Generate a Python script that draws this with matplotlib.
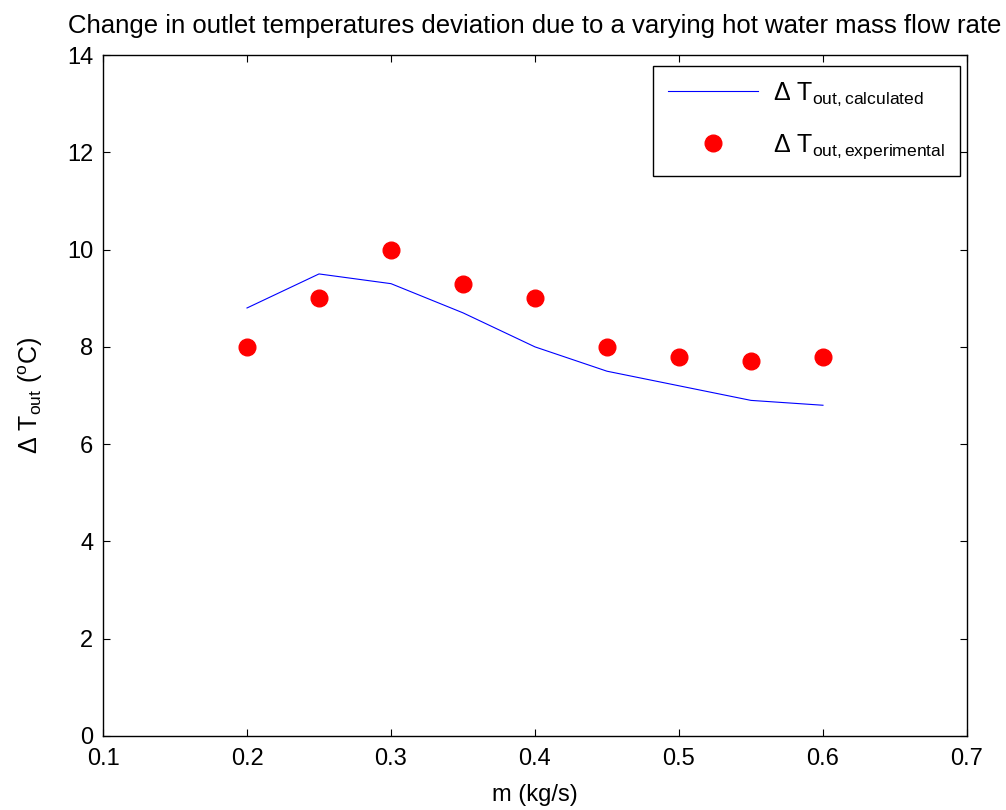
import matplotlib
matplotlib.use("Agg")
import matplotlib.pyplot as plt

# mass flow rate (kg/s) and outlet temperature deviation (degC)
m_flow = [0.2, 0.25, 0.3, 0.35, 0.4, 0.45, 0.5, 0.55, 0.6]
dT_calculated = [8.8, 9.5, 9.3, 8.7, 8.0, 7.5, 7.2, 6.9, 6.8]
dT_experimental = [8.0, 9.0, 10.0, 9.3, 9.0, 8.0, 7.8, 7.7, 7.8]

x_ticks = [0.1, 0.2, 0.3, 0.4, 0.5, 0.6, 0.7]
y_ticks = [0, 2, 4, 6, 8, 10, 12, 14]

plt.rcParams['font.family'] = ['Liberation Sans', 'DejaVu Sans']
plt.rcParams['mathtext.fontset'] = 'custom'
plt.rcParams['mathtext.rm'] = 'Liberation Sans'
plt.rcParams['mathtext.it'] = 'Liberation Sans'
plt.rcParams['mathtext.bf'] = 'Liberation Sans'

fig = plt.figure(figsize=(10.06, 8.10), dpi=100)
ax = fig.add_axes([0.1024, 0.0914, 0.8588, 0.8406])

ax.plot(m_flow, dT_calculated, color='blue', lw=0.8,
        label=r'$\Delta$ T$_{\mathrm{out,calculated}}$')
ax.plot(m_flow, dT_experimental, 'o', color='red', markersize=12, mec='red',
        label=r'$\Delta$ T$_{\mathrm{out,experimental}}$')

ax.set_xlim(0.1, 0.7)
ax.set_ylim(0, 14)
ax.set_xticks(x_ticks)
ax.set_yticks(y_ticks)
ax.set_xticklabels([f'{v:g}' for v in x_ticks])
ax.tick_params(direction='in', top=True, right=True, length=5, width=0.8, labelsize=17)
ax.tick_params(axis='x', pad=9)
ax.tick_params(axis='y', pad=7)
for s in ax.spines.values():
    s.set_linewidth(1.0)

ax.set_xlabel('m (kg/s)', fontsize=17, labelpad=10)
ax.set_ylabel(r'$\Delta$ T$_{\mathrm{out}}$ ($^{\mathrm{o}}$C)', fontsize=18, labelpad=16)
ax.set_title('Change in outlet temperatures deviation due to a varying hot water mass flow rate',
             fontsize=18.5, pad=16)

leg = ax.legend(loc='upper right', fontsize=18, handlelength=3.6, fancybox=False,
                framealpha=1, edgecolor='black', borderpad=0.6, labelspacing=0.95,
                handletextpad=0.6, borderaxespad=0, bbox_to_anchor=(0.992, 0.984))
leg.get_frame().set_linewidth(1.0)

fig.savefig('out.png', dpi=100)
